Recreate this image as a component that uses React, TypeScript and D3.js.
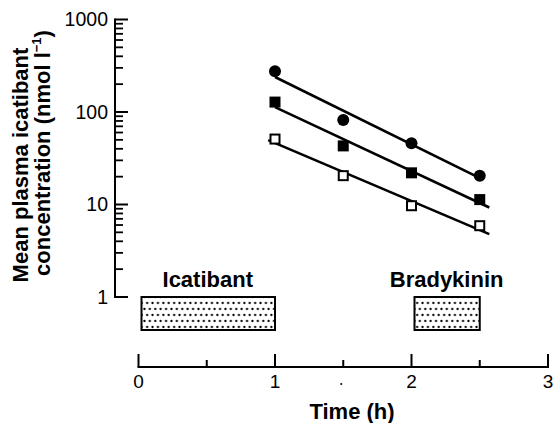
import React from 'react';
import * as d3 from 'd3';

// time points (h) and mean plasma icatibant concentration (nmol l-1)
const times = [1, 1.5, 2, 2.5];
const circleValues = [276, 82, 46, 20.5];
const filledSquareValues = [128, 43, 22, 11.3];
const openSquareValues = [51, 20.5, 9.7, 5.9];

// extent of each fitted line (h)
const circleFitRange = [1, 2.52];
const filledFitRange = [1, 2.57];
const openFitRange = [0.95, 2.57];

const yTickValues = [1, 10, 100, 1000];
const xTickValues = [0, 0.5, 1, 1.5, 2, 2.5, 3];
const xTickLabels = ['0', '', '1', '', '2', '', '3'];

// infusion periods (h)
const infusions = [
  { label: 'Icatibant', start: 0, end: 1 },
  { label: 'Bradykinin', start: 2, end: 2.5 },
];

const W = 555;
const H = 423;
const FONT = '"Liberation Sans", Arial, Helvetica, sans-serif';

// log-linear least squares fit
function fitLog(xs: number[], ys: number[]) {
  const ly = ys.map(v => Math.log10(v));
  const mx = d3.mean(xs) as number;
  const my = d3.mean(ly) as number;
  let num = 0;
  let den = 0;
  xs.forEach((x, i) => {
    num += (x - mx) * (ly[i] - my);
    den += (x - mx) * (x - mx);
  });
  const slope = num / den;
  return (x: number) => Math.pow(10, my + slope * (x - mx));
}

const App = () => {
  const x = d3.scaleLinear().domain([0, 3]).range([138.5, 548]);
  const y = d3.scaleLog().domain([1, 1000]).range([297, 19.5]);
  const axisX = 115;
  const axisY = 367;

  // minor ticks 2..9 per decade
  const minorTicks: number[] = [];
  [1, 10, 100].forEach(d => {
    for (let k = 2; k <= 9; k++) minorTicks.push(d * k);
  });

  const line = d3.line<[number, number]>().x(d => x(d[0])).y(d => y(d[1]));
  const series = [
    { values: circleValues, range: circleFitRange },
    { values: filledSquareValues, range: filledFitRange },
    { values: openSquareValues, range: openFitRange },
  ];

  const boxTop = 297;
  const boxBottom = 330;

  return (
    <svg width={W} height={H} style={{ position: 'absolute', left: 0, top: 0, background: '#fff' }}>
      <defs>
        <pattern id="dots" width="5.4" height="12" patternUnits="userSpaceOnUse">
          <rect width="5.4" height="12" fill="#fff" />
          <circle cx="1.35" cy="3" r="1.15" fill="#000" />
          <circle cx="4.05" cy="9" r="1.15" fill="#000" />
        </pattern>
      </defs>

      {/* y axis */}
      <line x1={axisX} x2={axisX} y1={y(1000) - 1} y2={y(1) + 1} stroke="#000" strokeWidth={2} />
      {yTickValues.map(v => (
        <g key={v}>
          <line x1={axisX} x2={axisX + 13} y1={y(v)} y2={y(v)} stroke="#000" strokeWidth={2} />
          <text x={108} y={y(v)} dy="0.35em" textAnchor="end" fontFamily={FONT} fontSize={19.5}>
            {v}
          </text>
        </g>
      ))}
      {minorTicks.map(v => (
        <line key={v} x1={axisX} x2={axisX + 8} y1={y(v)} y2={y(v)} stroke="#000" strokeWidth={1.8} />
      ))}

      {/* y axis title */}
      <text transform="translate(28,165) rotate(-90)" textAnchor="middle" fontFamily={FONT} fontSize={22} fontWeight="bold">
        Mean plasma icatibant
      </text>
      <text transform="translate(50,153) rotate(-90)" textAnchor="middle" fontFamily={FONT} fontSize={22} fontWeight="bold">
        concentration (nmol l
        <tspan fontSize={13} dy={-9}>−1</tspan>
        <tspan dy={9}>)</tspan>
      </text>

      {/* fitted lines */}
      {series.map((s, i) => {
        const f = fitLog(times, s.values);
        const pts: [number, number][] = s.range.map(t => [t, f(t)]);
        return <path key={i} d={line(pts) || ''} fill="none" stroke="#000" strokeWidth={2.6} />;
      })}

      {/* markers */}
      {times.map((t, i) => (
        <circle key={'c' + i} cx={x(t)} cy={y(circleValues[i])} r={6} fill="#000" />
      ))}
      {times.map((t, i) => (
        <rect key={'f' + i} x={x(t) - 5.5} y={y(filledSquareValues[i]) - 5.5} width={11} height={11} fill="#000" />
      ))}
      {times.map((t, i) => (
        <rect key={'o' + i} x={x(t) - 4.5} y={y(openSquareValues[i]) - 4.5} width={9} height={9} fill="#fff" stroke="#000" strokeWidth={2} />
      ))}

      {/* infusion boxes */}
      {infusions.map(b => (
        <g key={b.label}>
          <rect x={x(b.start) + 3} y={boxTop} width={x(b.end) - x(b.start) - 3} height={boxBottom - boxTop} fill="url(#dots)" stroke="#000" strokeWidth={2} />
          <text x={(x(b.start) + x(b.end)) / 2 + 1} y={287} textAnchor="middle" fontFamily={FONT} fontSize={22} fontWeight="bold">
            {b.label}
          </text>
        </g>
      ))}

      {/* x axis */}
      <line x1={x(0) - 1} x2={x(3) + 1} y1={axisY} y2={axisY} stroke="#000" strokeWidth={2} />
      {xTickValues.map((v, i) => (
        <g key={v}>
          <line x1={x(v)} x2={x(v)} y1={axisY} y2={axisY - (Number.isInteger(v) ? 13 : 7)} stroke="#000" strokeWidth={2} />
          {xTickLabels[i] && (
            <text x={x(v)} y={388} textAnchor="middle" fontFamily={FONT} fontSize={19}>
              {xTickLabels[i]}
            </text>
          )}
        </g>
      ))}
      <circle cx={x(1.5) - 2} cy={384} r={1} fill="#000" />
      <text x={352} y={419} textAnchor="middle" fontFamily={FONT} fontSize={22} fontWeight="bold">
        Time (h)
      </text>
    </svg>
  );
};

export default App;
